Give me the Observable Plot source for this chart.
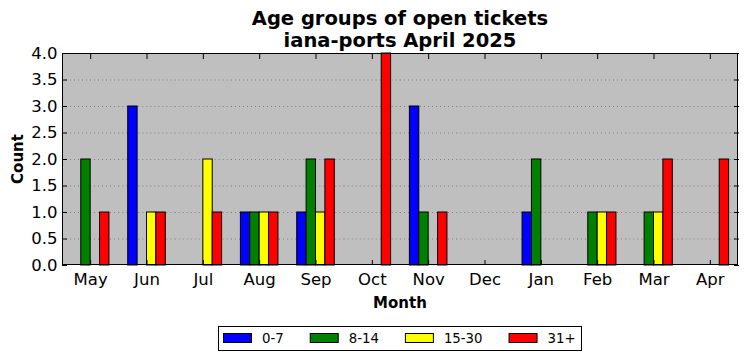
<!DOCTYPE html>
<html>
<head>
<meta charset="utf-8">
<script src="https://cdn.jsdelivr.net/npm/d3@7"></script>
<script src="https://cdn.jsdelivr.net/npm/@observablehq/plot@0.6"></script>
<style>
  body { margin: 0; background: #fff; }
  #chart { width: 747px; height: 361px; }
  svg text { font-family: "DejaVu Sans", sans-serif; }
</style>
</head>
<body>
<div id="chart"></div>
<script>
// ---- data ----
const titleLines = ["Age groups of open tickets", "iana-ports April 2025"];
const xLabel = "Month";
const yLabel = "Count";
const months = ["May", "Jun", "Jul", "Aug", "Sep", "Oct", "Nov", "Dec", "Jan", "Feb", "Mar", "Apr"];
const groups = ["0-7", "8-14", "15-30", "31+"];
const groupColors = ["#0000ff", "#008000", "#ffff00", "#ff0000"];
const age0to7   = [0, 3, 0, 1, 1, 0, 3, 0, 1, 0, 0, 0];
const age8to14  = [2, 0, 0, 1, 2, 0, 1, 0, 2, 1, 1, 0];
const age15to30 = [0, 1, 2, 1, 1, 0, 0, 0, 0, 1, 1, 0];
const age31plus = [1, 1, 1, 1, 2, 4, 1, 0, 0, 1, 2, 2];
const yTicks = [0, 0.5, 1, 1.5, 2, 2.5, 3, 3.5, 4];

const series = [age0to7, age8to14, age15to30, age31plus];
const data = months.flatMap((m, i) =>
  groups.map((g, j) => ({ month: m, group: g, value: series[j][i] }))
);

const W = 747, H = 361, mT = 53, mB = 96, mL = 62, mR = 9;
const tickFont = 16.5;
const tk = 5; // inward tick length

const svg = Plot.plot({
  width: W, height: H,
  marginTop: mT, marginBottom: mB, marginLeft: mL, marginRight: mR,
  style: { fontFamily: "DejaVu Sans", color: "#000", background: "transparent", overflow: "visible" },
  fx: { domain: months, padding: 0, round: false, label: null },
  x: { domain: groups, paddingInner: 0, paddingOuter: 1, round: false, axis: null },
  y: { domain: [0, 4], label: null },
  color: { domain: groups, range: groupColors },
  marks: [
    Plot.gridY(yTicks.filter(t => t > 0 && t < 4), { stroke: "#808080", strokeOpacity: 1, strokeDasharray: "1,3" }),
    Plot.barY(data, { fx: "month", x: "group", y: "value", fill: "group", stroke: "#000", strokeWidth: 1, inset: 0 }),
    // labels
    Plot.axisY({ anchor: "left", ticks: yTicks, tickFormat: d3.format(".1f"), tickSize: 0, tickPadding: 5, fontSize: tickFont, label: null }),
    Plot.axisFx({ anchor: "bottom", tickSize: 0, tickPadding: 8, fontSize: tickFont, label: null }),
    // inward ticks
    Plot.axisY({ anchor: "left", ticks: yTicks, tickSize: tk, dx: tk, tickFormat: () => "", label: null }),
    Plot.axisY({ anchor: "right", ticks: yTicks, tickSize: tk, dx: -tk, tickFormat: () => "", label: null }),
    Plot.axisFx({ anchor: "bottom", tickSize: tk, dy: -tk, tickFormat: () => "", label: null }),
    Plot.axisFx({ anchor: "top", tickSize: tk, dy: tk, tickFormat: () => "", label: null })
  ]
});

document.getElementById("chart").appendChild(svg);
const s = d3.select(svg);

// axes background (behind everything) and border
s.insert("rect", ":first-child")
  .attr("x", mL).attr("y", mT)
  .attr("width", W - mL - mR).attr("height", H - mT - mB)
  .attr("fill", "#bfbfbf");
s.append("rect")
  .attr("x", mL + 0.5).attr("y", mT + 0.5)
  .attr("width", W - mL - mR - 1).attr("height", H - mT - mB - 1)
  .attr("fill", "none").attr("stroke", "#000").attr("stroke-width", 1);

const cx = mL + (W - mL - mR) / 2;
// title
titleLines.forEach((t, i) => {
  s.append("text").attr("x", cx).attr("y", 25 + i * 22)
    .attr("text-anchor", "middle")
    .style("font-size", "19.5px").style("font-weight", "bold").text(t);
});
// axis labels
s.append("text").attr("x", cx).attr("y", 308).attr("text-anchor", "middle")
  .style("font-size", "15px").style("font-weight", "bold").text(xLabel);
s.append("text").attr("transform", `translate(23,${mT + (H - mT - mB) / 2}) rotate(-90)`)
  .attr("text-anchor", "middle")
  .style("font-size", "15px").style("font-weight", "bold").text(yLabel);

// legend
const lg = s.append("g");
lg.append("rect").attr("x", 218.5).attr("y", 326.5).attr("width", 363).attr("height", 24)
  .attr("fill", "#fff").attr("stroke", "#000").attr("stroke-width", 1);
let lx = 223;
groups.forEach((g, i) => {
  lg.append("rect").attr("x", lx + 0.5).attr("y", 333.5).attr("width", 28).attr("height", 9)
    .attr("fill", groupColors[i]).attr("stroke", "#000").attr("stroke-width", 1);
  const t = lg.append("text").attr("x", lx + 39).attr("y", 343)
    .attr("text-anchor", "start")
    .style("font-size", "13.3px").text(g);
  lx = lx + 39 + t.node().getComputedTextLength() + 26;
});
</script>
</body>
</html>
